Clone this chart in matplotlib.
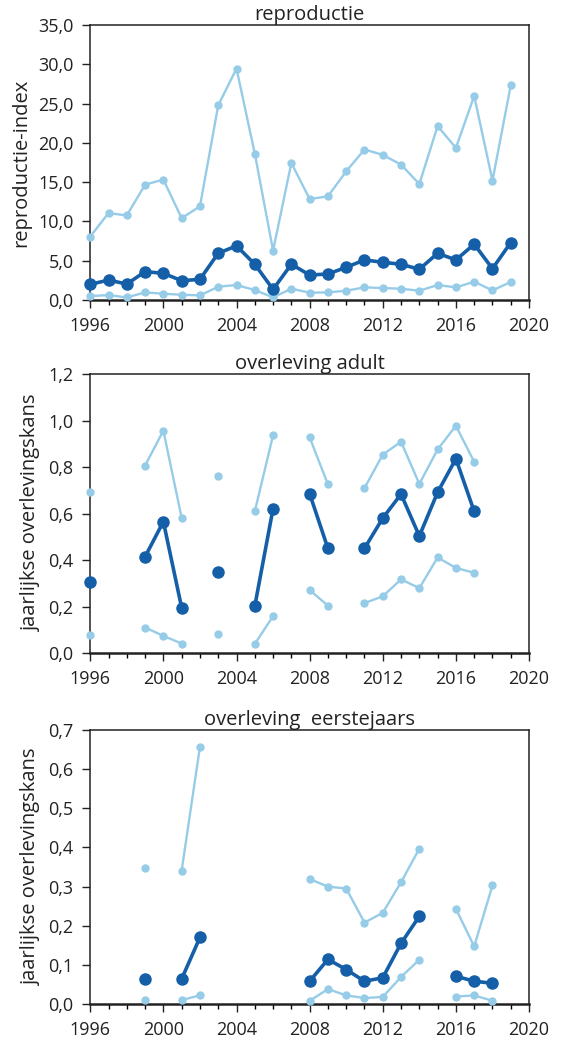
import numpy as np
import matplotlib
matplotlib.use("Agg")
import matplotlib.pyplot as plt
import matplotlib.ticker as mticker

plt.rcParams['font.family'] = ['Open Sans', 'DejaVu Sans']

nan = np.nan
years = list(range(1996, 2020))

# reproductie (index): lower bound, estimate, upper bound
repro_low = [0.51, 0.64, 0.34, 0.98, 0.81, 0.68, 0.60, 1.70, 1.92, 1.28, 0.34, 1.45,
             0.94, 0.98, 1.19, 1.62, 1.53, 1.45, 1.19, 1.92, 1.62, 2.34, 1.23, 2.30]
repro_mid = [2.00, 2.55, 2.04, 3.62, 3.41, 2.47, 2.64, 5.96, 6.90, 4.56, 1.36, 4.56,
             3.19, 3.32, 4.17, 5.11, 4.81, 4.56, 3.92, 5.96, 5.11, 7.11, 4.00, 7.32]
repro_high = [8.09, 11.07, 10.77, 14.69, 15.33, 10.43, 11.92, 24.78, 29.46, 18.65, 6.30, 17.45,
              12.86, 13.20, 16.39, 19.16, 18.48, 17.24, 14.77, 22.14, 19.37, 25.97, 15.20, 27.33]

# overleving adult
adult_low = [0.079, nan, nan, 0.111, 0.075, 0.042, nan, 0.082, nan, 0.040, 0.160, nan,
             0.272, 0.205, nan, 0.216, 0.245, 0.318, 0.280, 0.412, 0.367, 0.346, nan, nan]
adult_mid = [0.305, nan, nan, 0.415, 0.566, 0.196, nan, 0.349, nan, 0.203, 0.622, nan,
             0.686, 0.451, nan, 0.451, 0.581, 0.684, 0.504, 0.692, 0.836, 0.610, nan, nan]
adult_high = [0.693, nan, nan, 0.807, 0.957, 0.582, nan, 0.761, nan, 0.610, 0.937, nan,
              0.928, 0.726, nan, 0.710, 0.854, 0.909, 0.728, 0.876, 0.978, 0.823, nan, nan]

# overleving eerstejaars
juv_low = [nan, nan, nan, 0.009, nan, 0.010, 0.022, nan, nan, nan, nan, nan,
           0.008, 0.038, 0.022, 0.015, 0.018, 0.069, 0.113, nan, 0.019, 0.022, 0.008, nan]
juv_mid = [nan, nan, nan, 0.064, nan, 0.064, 0.170, nan, nan, nan, nan, nan,
           0.058, 0.114, 0.088, 0.058, 0.067, 0.155, 0.224, nan, 0.071, 0.058, 0.053, nan]
juv_high = [nan, nan, nan, 0.347, nan, 0.341, 0.657, nan, nan, nan, nan, nan,
            0.319, 0.300, 0.295, 0.208, 0.233, 0.311, 0.397, nan, 0.243, 0.147, 0.303, nan]

dark = "#155FA9"
light = "#96CCE8"

panels = [
    ("reproductie", "reproductie-index", repro_low, repro_mid, repro_high, 35, 5),
    ("overleving adult", "jaarlijkse overlevingskans", adult_low, adult_mid, adult_high, 1.2, 0.2),
    ("overleving  eerstejaars", "jaarlijkse overlevingskans", juv_low, juv_mid, juv_high, 0.7, 0.1),
]
boxes = [(0.712, 0.976), (0.373, 0.641), (0.0365, 0.2994)]

fig = plt.figure(figsize=(5.64, 10.42), dpi=100)

for (title, ylab, lo, mid, hi, ymax, step), (b, t) in zip(panels, boxes):
    ax = fig.add_axes([0.16, b, 0.778, t - b])
    for series in (lo, hi):
        ax.plot(years, series, color=light, lw=1.7, marker="o", ms=5, clip_on=False, zorder=3)
    ax.plot(years, mid, color=dark, lw=2.6, marker="o", ms=8, clip_on=False, zorder=4)
    ax.set_xlim(1996, 2020)
    ax.set_ylim(0, ymax)
    ax.set_xticks(range(1996, 2021, 4))
    ax.xaxis.set_minor_locator(mticker.MultipleLocator(1))
    ax.set_yticks(np.arange(0, ymax + step / 2, step))
    ax.yaxis.set_major_formatter(mticker.FuncFormatter(lambda v, _: f"{v:.1f}".replace(".", ",")))
    ax.tick_params(axis="both", which="major", direction="out", length=6, width=1,
                   labelsize=13, colors="#222222", pad=6)
    ax.tick_params(axis="x", which="minor", direction="out", length=3.5, width=1)
    ax.tick_params(axis="y", which="minor", length=0)
    for s in ax.spines.values():
        s.set_linewidth(1.1)
        s.set_color("#222222")
    ax.spines["bottom"].set_linewidth(1.8)
    ax.set_title(title, fontsize=14.5, color="#222222", pad=0)
    ax.set_ylabel(ylab, fontsize=14.5, color="#222222", labelpad=5)

fig.savefig("out.png", dpi=100)
